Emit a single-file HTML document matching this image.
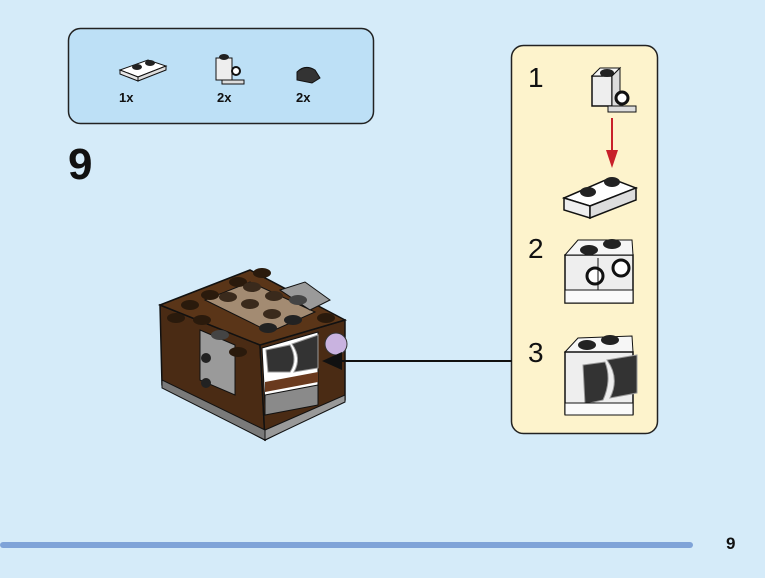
<!DOCTYPE html>
<html><head><meta charset="utf-8"><style>
html,body{margin:0;padding:0}
body{width:765px;height:578px;background:#d5ebf9;position:relative;overflow:hidden;font-family:"Liberation Sans",sans-serif}
.t{position:absolute;color:#111}
</style></head><body>
<svg width="765" height="578" style="position:absolute;left:0;top:0">
<rect x="68.5" y="28.5" width="305" height="95" rx="12" fill="#bde0f6" stroke="#222" stroke-width="1.5"/>
<polygon points="120,70 148,60 166,66 138,77" fill="#fff" stroke="#111"/>
<polygon points="120,70 138,77 138,81 120,74" fill="#e6e6e6" stroke="#111"/>
<polygon points="138,77 166,66 166,70 138,81" fill="#ddd" stroke="#111"/>
<ellipse cx="137" cy="67" rx="5" ry="3" fill="#222"/><ellipse cx="150" cy="63" rx="5" ry="3" fill="#222"/>
<rect x="216" y="58" width="16" height="22" fill="#eee" stroke="#111"/>
<circle cx="236" cy="71" r="4" fill="#fff" stroke="#111" stroke-width="2"/>
<ellipse cx="224" cy="57" rx="5" ry="3" fill="#222"/>
<rect x="222" y="80" width="22" height="4" fill="#ddd" stroke="#111"/>
<path d="M297,80 L297,72 Q305,64 315,70 L320,78 L312,83 Z" fill="#333" stroke="#111"/>
<rect x="511.5" y="45.5" width="146" height="388" rx="12" fill="#fdf3cc" stroke="#222" stroke-width="1.5"/>
<rect x="592" y="76" width="20" height="30" fill="#eee" stroke="#111" stroke-width="1.5"/>
<polygon points="592,76 600,68 620,68 612,76" fill="#f6f6f6" stroke="#111"/>
<ellipse cx="607" cy="73" rx="7" ry="4" fill="#222"/>
<polygon points="612,76 620,68 620,108 612,106" fill="#ddd" stroke="#111"/>
<circle cx="622" cy="98" r="6" fill="#fff" stroke="#111" stroke-width="3"/>
<rect x="608" y="106" width="28" height="6" fill="#ddd" stroke="#111"/>
<line x1="612" y1="118" x2="612" y2="160" stroke="#c8202a" stroke-width="2"/>
<polygon points="606,150 618,150 612,168" fill="#c8202a"/>
<polygon points="564,198 610,178 636,188 590,206" fill="#fff" stroke="#111" stroke-width="1.5"/>
<polygon points="564,198 590,206 590,218 564,210" fill="#eee" stroke="#111" stroke-width="1.5"/>
<polygon points="590,206 636,188 636,200 590,218" fill="#ddd" stroke="#111" stroke-width="1.5"/>
<ellipse cx="588" cy="192" rx="8" ry="5" fill="#222"/><ellipse cx="612" cy="182" rx="8" ry="5" fill="#222"/>
<rect x="565" y="255" width="68" height="48" fill="#eee" stroke="#111" stroke-width="1.5"/>
<polygon points="565,255 578,240 632,240 633,255" fill="#f6f6f6" stroke="#111"/>
<ellipse cx="589" cy="250" rx="9" ry="5" fill="#222"/><ellipse cx="612" cy="244" rx="9" ry="5" fill="#222"/>
<circle cx="595" cy="276" r="8" fill="#fff" stroke="#111" stroke-width="3"/>
<circle cx="621" cy="268" r="8" fill="#fff" stroke="#111" stroke-width="3"/>
<line x1="598" y1="258" x2="598" y2="300" stroke="#111"/>
<rect x="565" y="290" width="68" height="13" fill="#fafafa" stroke="#111"/>
<polygon points="565,352 578,338 632,336 633,352" fill="#f6f6f6" stroke="#111"/>
<rect x="565" y="352" width="68" height="62" fill="#eee" stroke="#111" stroke-width="1.5"/>
<ellipse cx="587" cy="345" rx="9" ry="5" fill="#222"/><ellipse cx="610" cy="340" rx="9" ry="5" fill="#222"/>
<path d="M583,365 L605,362 Q612,380 603,400 L585,404 Z" fill="#333" stroke="#999"/>
<path d="M607,360 L637,355 L637,393 L610,398 Q620,378 607,360 Z" fill="#333" stroke="#999"/>
<rect x="565" y="403" width="68" height="12" fill="#fafafa" stroke="#111"/>
<polygon points="160,305 260,345 265,440 162,385" fill="#4a2b14" stroke="#111" stroke-width="1.5"/>
<polygon points="260,345 345,320 345,400 265,440" fill="#4a2b14" stroke="#111" stroke-width="1.5"/>
<polygon points="160,305 250,270 345,320 260,345" fill="#5a3518" stroke="#111" stroke-width="1.5"/>
<polygon points="162,380 265,430 265,440 162,388" fill="#7a7a7a" stroke="#111"/>
<polygon points="265,430 345,395 345,402 265,440" fill="#999" stroke="#111"/>
<polygon points="205,300 250,282 315,312 270,332" fill="#a38b72" stroke="#111"/>
<polygon points="280,290 305,282 330,300 310,310" fill="#9a9a9a" stroke="#111"/>
<polygon points="200,330 235,345 235,395 200,380" fill="#9a9a9a" stroke="#111"/>
<circle cx="206" cy="358" r="5" fill="#222"/><circle cx="206" cy="383" r="5" fill="#222"/>
<polygon points="262,348 318,332 318,395 265,405" fill="#fff" stroke="#111"/>
<path d="M266,350 L290,345 Q298,360 290,372 L268,372 Z" fill="#333" stroke="#999"/>
<path d="M292,344 L318,335 L318,368 L294,372 Q302,358 292,344 Z" fill="#333" stroke="#999"/>
<polygon points="265,382 318,372 318,382 265,392" fill="#6a3a1e"/>
<polygon points="265,395 318,385 318,405 265,415" fill="#8a8a8a" stroke="#111"/>
<circle cx="336" cy="344" r="11" fill="#c9b3e0" stroke="#333"/>
<g fill="#2a1a0c">
<ellipse cx="190" cy="305" rx="9" ry="5"/><ellipse cx="210" cy="295" rx="9" ry="5"/><ellipse cx="238" cy="282" rx="9" ry="5"/><ellipse cx="262" cy="273" rx="9" ry="5"/>
<ellipse cx="176" cy="318" rx="9" ry="5"/><ellipse cx="202" cy="320" rx="9" ry="5"/><ellipse cx="238" cy="352" rx="9" ry="5"/><ellipse cx="326" cy="318" rx="9" ry="5"/>
</g>
<g fill="#3a2a1c"><ellipse cx="228" cy="297" rx="9" ry="5"/><ellipse cx="252" cy="287" rx="9" ry="5"/><ellipse cx="250" cy="304" rx="9" ry="5"/><ellipse cx="274" cy="296" rx="9" ry="5"/><ellipse cx="272" cy="314" rx="9" ry="5"/></g>
<g fill="#444"><ellipse cx="298" cy="300" rx="9" ry="5"/><ellipse cx="220" cy="335" rx="9" ry="5"/></g>
<g fill="#222"><ellipse cx="268" cy="328" rx="9" ry="5"/><ellipse cx="293" cy="320" rx="9" ry="5"/></g>
<line x1="340" y1="361" x2="512" y2="361" stroke="#111" stroke-width="2"/>
<polygon points="322,361 342,352 342,370" fill="#111"/>
<rect x="0" y="542" width="693" height="6" rx="3" fill="#7fa3d8"/>
</svg>
<div class="t" style="left:119px;top:90px;font-size:13px;font-weight:bold">1x</div>
<div class="t" style="left:217px;top:90px;font-size:13px;font-weight:bold">2x</div>
<div class="t" style="left:296px;top:90px;font-size:13px;font-weight:bold">2x</div>
<div class="t" style="left:68px;top:140px;font-size:44px;font-weight:bold">9</div>
<div class="t" style="left:528px;top:62px;font-size:28px">1</div>
<div class="t" style="left:528px;top:233px;font-size:28px">2</div>
<div class="t" style="left:528px;top:337px;font-size:28px">3</div>
<div class="t" style="left:726px;top:534px;font-size:17px;font-weight:bold">9</div>
</body></html>
